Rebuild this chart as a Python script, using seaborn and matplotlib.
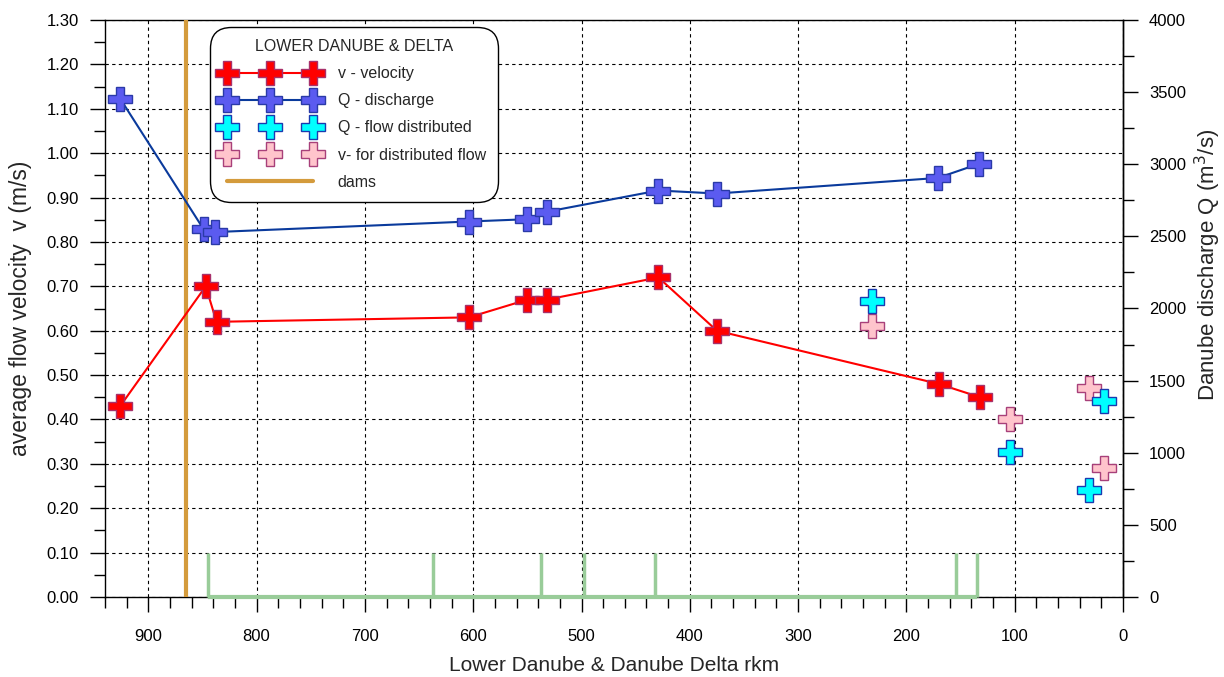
import matplotlib
matplotlib.use("Agg")
import matplotlib.pyplot as plt
from matplotlib.ticker import MultipleLocator, FormatStrFormatter
import seaborn as sns

# ---- data ----
v_rkm = [926, 847, 837, 604, 550, 532, 429, 375, 170, 132]
v_vals = [0.43, 0.70, 0.62, 0.63, 0.67, 0.67, 0.72, 0.60, 0.48, 0.45]

q_rkm = [926, 849, 838, 604, 550, 532, 429, 375, 171, 133]
q_vals = [3455, 2550, 2530, 2603, 2619, 2671, 2818, 2797, 2905, 3003]

qd_rkm = [232, 104, 31, 18]
qd_vals = [2055, 1003, 740, 1356]

vd_rkm = [232, 104, 31, 18]
vd_vals = [0.61, 0.40, 0.47, 0.29]

dam_rkm = [865]

gauge_rkm = [845, 637, 537, 498, 432, 154, 135]
gauge_h = [0.10, 0.10, 0.10, 0.10, 0.10, 0.10, 0.10]

legend_title = "LOWER DANUBE & DELTA"
labels_order = ["v - velocity", "Q - discharge", "Q - flow distributed",
                "v- for distributed flow", "dams"]

# ---- styling ----
sns.set_theme(style="ticks")
plt.rcParams["font.family"] = ["Liberation Sans", "DejaVu Sans"]
plt.rcParams["axes.edgecolor"] = "black"
plt.rcParams["axes.linewidth"] = 1.0

W, H = 1224, 677
fig = plt.figure(figsize=(W / 100, H / 100), dpi=100)
L, R, T, B = 105, 1123, 20, 597
ax = fig.add_axes([L / W, 1 - B / H, (R - L) / W, (B - T) / H])
ax2 = ax.twinx()

MS = 17

# dams
for d in dam_rkm:
    ax.axvline(d, color="#D49B3C", lw=3, label="dams", zorder=3)

# gauge stations (green)
ax.vlines(gauge_rkm, 0, gauge_h, color="#99CC99", lw=2.5, zorder=4, clip_on=False)
ax.hlines(0, min(gauge_rkm), max(gauge_rkm), color="#99CC99", lw=3, zorder=4,
          clip_on=False)

# velocity
sns.lineplot(x=v_rkm, y=v_vals, ax=ax, color="#FF0000", lw=1.5, marker="P",
             markersize=MS, markerfacecolor="#FF0000", markeredgecolor="#A8306A",
             markeredgewidth=1.0, estimator=None, sort=False,
             label="v - velocity", legend=False, zorder=5)

# velocity for distributed flow
sns.lineplot(x=vd_rkm, y=vd_vals, ax=ax, linestyle="none", marker="P",
             markersize=MS, markerfacecolor="#FFC4CC", markeredgecolor="#A8407A",
             markeredgewidth=1.0, estimator=None, sort=False,
             label="v- for distributed flow", legend=False, zorder=5)

# discharge
sns.lineplot(x=q_rkm, y=q_vals, ax=ax2, color="#0A3A9C", lw=1.5, marker="P",
             markersize=MS, markerfacecolor="#5B5BF0", markeredgecolor="#2A3AA8",
             markeredgewidth=1.0, estimator=None, sort=False,
             label="Q - discharge", legend=False, zorder=5)

# discharge distributed
sns.lineplot(x=qd_rkm, y=qd_vals, ax=ax2, linestyle="none", marker="P",
             markersize=MS, markerfacecolor="#00FFFF", markeredgecolor="#1A3AB0",
             markeredgewidth=1.0, estimator=None, sort=False,
             label="Q - flow distributed", legend=False, zorder=5)

# ---- axes ----
ax.set_xlim(940, 0)
ax.set_ylim(0, 1.30)
ax2.set_ylim(0, 4000)

ax.xaxis.set_major_locator(MultipleLocator(100))
ax.xaxis.set_minor_locator(MultipleLocator(20))
ax.yaxis.set_major_locator(MultipleLocator(0.1))
ax.yaxis.set_minor_locator(MultipleLocator(0.05))
ax.yaxis.set_major_formatter(FormatStrFormatter("%.2f"))
ax2.yaxis.set_major_locator(MultipleLocator(500))
ax2.yaxis.set_minor_locator(MultipleLocator(250))

ax.tick_params(axis="both", which="major", direction="out", length=10.8, width=1,
               labelsize=12, colors="black")
ax.tick_params(axis="both", which="minor", direction="out", length=7.9, width=1,
               colors="black")
ax.tick_params(axis="x", which="both", bottom=True, top=False)
ax.tick_params(axis="x", which="major", pad=12)
ax.tick_params(axis="y", which="both", left=True, right=False)
ax.tick_params(axis="y", which="major", pad=8)
ax2.tick_params(axis="y", which="major", direction="out", length=10.8, width=1,
                labelsize=12, colors="black", right=True, pad=8)
ax2.tick_params(axis="y", which="minor", direction="out", length=7.9, width=1,
                colors="black", right=True)

ax.grid(True, which="major", color="black", linestyle=(0, (3, 3)), linewidth=0.8)
ax.set_axisbelow(True)

for s in ax.spines.values():
    s.set_visible(True)
    s.set_color("black")
    s.set_linewidth(1.0)
ax.spines["bottom"].set_zorder(2)
for k, s in ax2.spines.items():
    s.set_visible(k == "right")
    s.set_color("black")
    s.set_linewidth(1.0)

ax.set_xlabel("Lower Danube & Danube Delta rkm", fontsize=15, labelpad=9)
ax.set_ylabel("average flow velocity  v (m/s)", fontsize=16.5)
ax2.set_ylabel("Danube discharge Q (m$^3$/s)", fontsize=16)
ax.yaxis.set_label_coords((32 - L) / (R - L), 0.5)
ax2.yaxis.set_label_coords((1193 - L) / (R - L), (B - 265) / (B - T))

# ---- legend ----
h1, l1 = ax.get_legend_handles_labels()
h2, l2 = ax2.get_legend_handles_labels()
hmap = dict(zip(l1 + l2, h1 + h2))
handles = [hmap[l] for l in labels_order]
leg = ax2.legend(handles, labels_order, title=legend_title, loc="upper left",
                 bbox_to_anchor=(210 / W, 1 - 27 / H), bbox_transform=fig.transFigure,
                 borderaxespad=0, numpoints=3, handlelength=6.0, handletextpad=1.25,
                 fontsize=11.5, title_fontsize=11.5, labelspacing=0.76,
                 borderpad=0.75, frameon=True, fancybox=True, framealpha=1,
                 edgecolor="black", facecolor="white")
leg.get_frame().set_linewidth(1.0)
leg.get_frame().set_boxstyle("round,pad=0,rounding_size=1.3")
leg.set_zorder(20)

fig.savefig("out.png", dpi=100)
